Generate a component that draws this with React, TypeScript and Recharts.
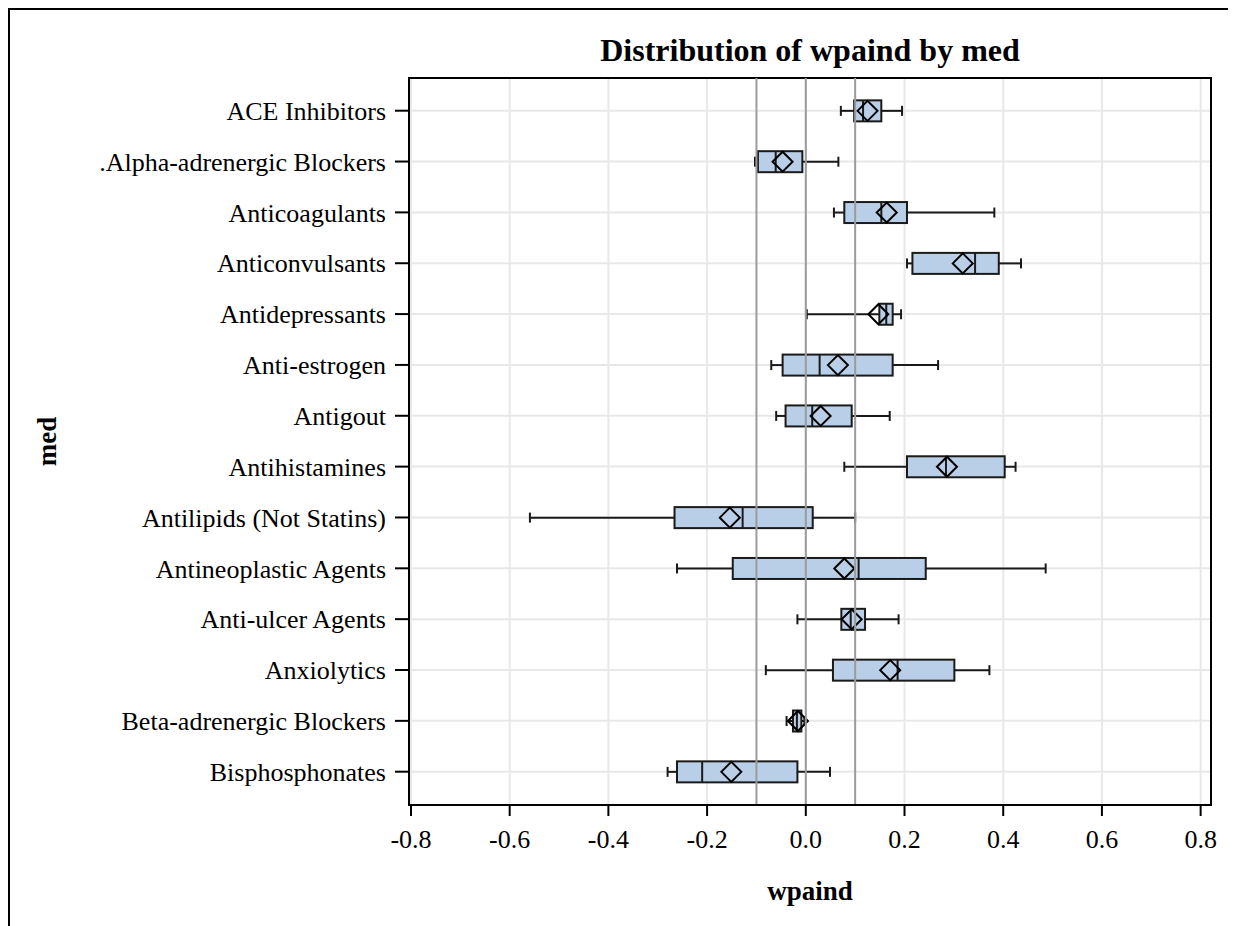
import React from "react"
import {
  Bar,
  CartesianGrid,
  ComposedChart,
  ReferenceArea,
  ReferenceLine,
  XAxis,
  YAxis,
} from "recharts"

// categories, top to bottom
const categories = [
  "ACE Inhibitors",
  ".Alpha-adrenergic Blockers",
  "Anticoagulants",
  "Anticonvulsants",
  "Antidepressants",
  "Anti-estrogen",
  "Antigout",
  "Antihistamines",
  "Antilipids (Not Statins)",
  "Antineoplastic Agents",
  "Anti-ulcer Agents",
  "Anxiolytics",
  "Beta-adrenergic Blockers",
  "Bisphosphonates",
]

// box plot statistics
const mins = [0.071, -0.103, 0.057, 0.205, 0.002, -0.07, -0.06, 0.078, -0.559, -0.261, -0.017, -0.081, -0.039, -0.28]
const q1s = [0.098, -0.097, 0.078, 0.216, 0.149, -0.047, -0.041, 0.205, -0.266, -0.148, 0.072, 0.055, -0.026, -0.261]
const medians = [0.116, -0.061, 0.153, 0.343, 0.163, 0.028, 0.013, 0.284, -0.128, 0.107, 0.091, 0.186, -0.018, -0.21]
const q3s = [0.153, -0.007, 0.205, 0.391, 0.176, 0.176, 0.093, 0.403, 0.014, 0.243, 0.12, 0.301, -0.009, -0.017]
const maxs = [0.195, 0.066, 0.382, 0.436, 0.193, 0.268, 0.17, 0.425, 0.1, 0.486, 0.188, 0.372, -0.003, 0.049]
const means = [0.125, -0.047, 0.164, 0.318, 0.147, 0.065, 0.03, 0.286, -0.154, 0.078, 0.093, 0.171, -0.016, -0.151]

const xTicks = [-0.8, -0.6, -0.4, -0.2, 0, 0.2, 0.4, 0.6, 0.8]
const refLines = [-0.1, 0, 0.1]
const xDomain = [-0.804, 0.821]
const yDomain = [-0.643, 13.655]

const data = categories.map((name, i) => ({
  idx: i,
  name,
  min: mins[i],
  q1: q1s[i],
  median: medians[i],
  q3: q3s[i],
  max: maxs[i],
  mean: means[i],
}))

const FONT = '"Liberation Serif", "Times New Roman", Times, serif'
const BOX_FILL = "#B9CFE7"
const INK = "#1a1a1a"

// draws the whole box from the [min, max] bar that recharts lays out
function BoxShape(props: any) {
  const { x, y, width, height, payload } = props
  if (!payload) return null
  const { min, q1, median, q3, max, mean } = payload
  const px = (v: number) => x + ((v - min) / (max - min)) * width
  const cy = y + height / 2
  const bh = 10.5
  const cap = 5
  const d = 10
  const mx = px(mean)
  return (
    <g>
      <line x1={px(min)} x2={px(q1)} y1={cy} y2={cy} stroke={INK} strokeWidth={2} />
      <line x1={px(q3)} x2={px(max)} y1={cy} y2={cy} stroke={INK} strokeWidth={2} />
      <line x1={px(min)} x2={px(min)} y1={cy - cap} y2={cy + cap} stroke={INK} strokeWidth={2} />
      <line x1={px(max)} x2={px(max)} y1={cy - cap} y2={cy + cap} stroke={INK} strokeWidth={2} />
      <rect
        x={px(q1)}
        y={cy - bh}
        width={px(q3) - px(q1)}
        height={bh * 2}
        fill={BOX_FILL}
        stroke={INK}
        strokeWidth={2}
      />
      <line x1={px(median)} x2={px(median)} y1={cy - bh} y2={cy + bh} stroke={INK} strokeWidth={2} />
      <polygon
        points={`${mx - d},${cy} ${mx},${cy - d} ${mx + d},${cy} ${mx},${cy + d}`}
        fill="none"
        stroke="#000"
        strokeWidth={2}
      />
    </g>
  )
}

export default function App() {
  return (
    <div
      style={{
        position: "relative",
        width: 1228,
        height: 918,
        boxSizing: "border-box",
        borderTop: "2px solid #000",
        borderLeft: "2px solid #000",
        background: "#fff",
        fontFamily: FONT,
      }}
    >
      <style>{"body{overflow:hidden}"}</style>
      <div
        style={{
          position: "absolute",
          left: 399,
          width: 802,
          top: 24,
          lineHeight: "32px",
          fontSize: 32,
          fontWeight: "bold",
          textAlign: "center",
          color: "#000",
        }}
      >
        Distribution of wpaind by med
      </div>
      <ComposedChart
        width={1226}
        height={916}
        data={data}
        layout="vertical"
        margin={{ top: 68, right: 25, bottom: 0, left: 0 }}
      >
        <CartesianGrid stroke="#e8e8e8" strokeWidth={2} />
        <XAxis
          type="number"
          domain={xDomain}
          allowDataOverflow
          ticks={xTicks}
          interval={0}
          tickFormatter={(v: number) => v.toFixed(1)}
          height={121}
          tickSize={11}
          tickMargin={14}
          axisLine={{ stroke: "#000", strokeWidth: 2 }}
          tickLine={{ stroke: "#000", strokeWidth: 2 }}
          tick={{ fill: "#000", fontSize: 26, fontFamily: FONT }}
          label={{
            value: "wpaind",
            position: "insideBottom",
            offset: 26,
            fill: "#000",
            fontSize: 27,
            fontWeight: "bold",
            fontFamily: FONT,
          }}
        />
        <YAxis
          type="number"
          dataKey="idx"
          domain={yDomain}
          allowDataOverflow
          ticks={categories.map((_, i) => i)}
          interval={0}
          tickFormatter={(v: number) => categories[v] ?? ""}
          width={399}
          tickSize={14}
          tickMargin={9}
          axisLine={{ stroke: "#000", strokeWidth: 2 }}
          tickLine={{ stroke: "#000", strokeWidth: 2 }}
          tick={{ fill: "#000", fontSize: 26, fontFamily: FONT }}
          label={{
            value: "med",
            position: "insideLeft",
            angle: -90,
            offset: 36,
            fill: "#000",
            fontSize: 27,
            fontWeight: "bold",
            fontFamily: FONT,
            style: { textAnchor: "middle" },
          }}
        />
        <Bar
          dataKey={(d: any) => [d.min, d.max]}
          shape={BoxShape}
          isAnimationActive={false}
        />
        {refLines.map((v) => (
          <ReferenceLine key={v} x={v} stroke="#9b9b9b" strokeWidth={2} />
        ))}
        <ReferenceArea
          x1={xDomain[0]}
          x2={xDomain[1]}
          fill="none"
          fillOpacity={0}
          stroke="#000"
          strokeWidth={2}
          ifOverflow="visible"
        />
      </ComposedChart>
    </div>
  )
}
